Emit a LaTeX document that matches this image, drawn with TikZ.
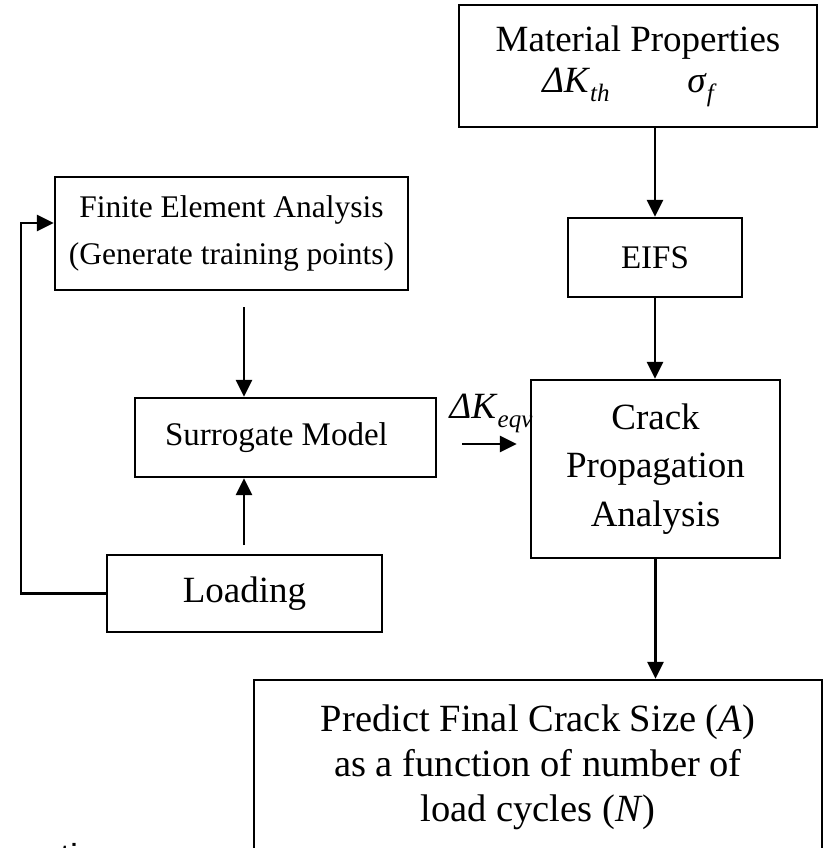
\documentclass[tikz,border=0pt]{standalone}
\usepackage{fontspec}
\setmainfont{Liberation Serif}
\newfontfamily\slidesans{Liberation Sans}
\usetikzlibrary{arrows.meta}
% italic lowered subscript for the symbol labels
\newcommand{\lowsub}[1]{\raisebox{-9pt}{\fontsize{25}{25}\selectfont\itshape #1}}
\newcommand{\fs}[2]{\fontsize{#1}{#2}\selectfont}
\begin{document}
\begin{tikzpicture}[x=1pt,y=-1pt,
  box/.style={draw, line width=2.3pt, rectangle, inner sep=0pt, align=center},
  flow/.style={line width=2.6pt, -{Triangle[length=17pt,width=16pt]}},
  lbl/.style={inner sep=0pt}]
\useasboundingbox (0,0) rectangle (827,848);
\clip (0,0) rectangle (827,848);

% boxes
\node[box, minimum width=358pt, minimum height=122pt, font=\fs{37}{45}] (mat) at (638,66)
  {\raisebox{-4pt}{Material Properties}\\
   \textit{ΔK}\lowsub{th}\hspace{2.1em}\textit{σ}\lowsub{f}\hspace*{20pt}};
\node[box, minimum width=174pt, minimum height=79pt, font=\fs{33}{40}] (eifs) at (655,257.5) {EIFS};
\node[box, minimum width=353pt, minimum height=113pt, font=\fs{31.5}{47}] (fea) at (231.5,233.5)
  {\raisebox{-5pt}{Finite Element Analysis}\\\raisebox{-5pt}{(Generate training points)}};
\node[box, minimum width=301pt, minimum height=79pt, font=\fs{33}{40}] (sur) at (285.5,437.5)
  {Surrogate Model\hspace*{18pt}};
\node[box, minimum width=275pt, minimum height=77pt, font=\fs{37}{45}] (load) at (244.5,593.5) {Loading};
\node[box, minimum width=249pt, minimum height=178pt, font=\fs{37}{48.5}] (crack) at (655.5,469)
  {Crack\\Propagation\\Analysis};
\node[box, minimum width=568pt, minimum height=175pt, font=\fs{38.5}{45}] (pred) at (538,767.5)
  {Predict Final Crack Size (\textit{A})\\as a function of number of\\load cycles (\textit{N})};

% connectors
\draw[flow] (mat.south -| eifs.north) -- (eifs.north);
\draw[flow] (eifs.south) -- (eifs.south |- crack.north);
\draw[flow] (crack.south) -- (crack.south |- pred.north);

\coordinate (feaout) at (244,307);
\draw[flow] (feaout) -- (feaout |- sur.north);

\coordinate (loadout) at (244,545);
\draw[flow] (loadout) -- (loadout |- sur.south);

\coordinate (keqvout) at (462,444);
\draw[flow, shorten >=13pt] (keqvout) -- (keqvout -| crack.west);
\node[lbl, font=\fs{37}{37}] (keqv) at (491,413) {\textit{ΔK}\lowsub{eqv}};

\path (fea.west) ++(0,-10.5) coordinate (loopin);
\draw[flow] (load.west) -- ++(-85,0) |- (loopin);

% slide caption running off the lower edge
\node[inner sep=0pt, anchor=base west, font=\slidesans\fs{36}{36}] (cap) at (60,869) {tion};
\end{tikzpicture}
\end{document}
